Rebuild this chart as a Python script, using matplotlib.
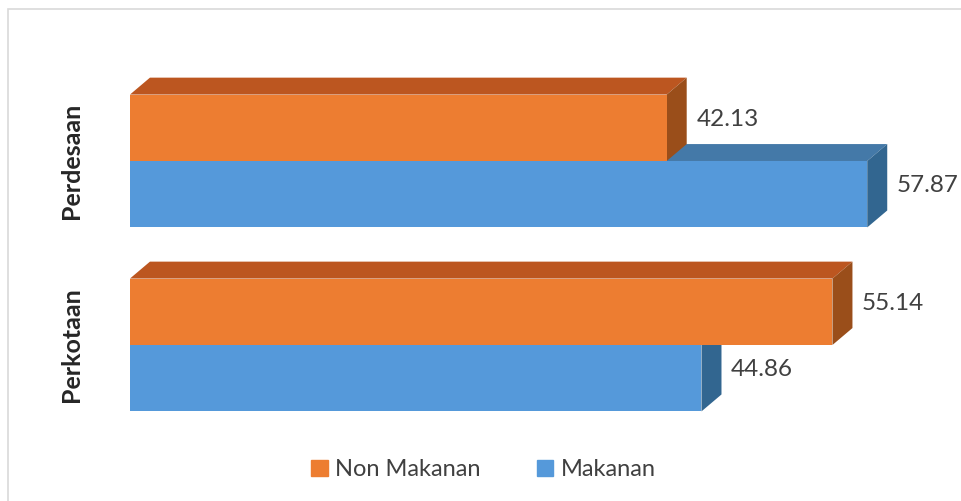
import matplotlib.pyplot as plt
from matplotlib.patches import Patch, Rectangle

# data
categories = ["Perkotaan", "Perdesaan"]
non_makanan = [55.14, 42.13]
makanan = [44.86, 57.87]
series_names = ["Non Makanan", "Makanan"]

# colours: front, top, side
orange = ["#ED7D31", "#BC5620", "#9A4E1A"]
blue = ["#5599DA", "#4479A8", "#326690"]

plt.rcParams['font.family'] = ['Lato', 'DejaVu Sans']

fig = plt.figure(figsize=(9.61, 5.01), dpi=100)
ax = fig.add_axes([0, 0, 1, 1])
ax.set_xlim(-10.20, 65.23)
ax.set_ylim(-0.848, 1.875)
ax.axis('off')

h = 0.361     # bar height (y units)
dx = 1.57     # depth in x
dy = 0.092    # depth in y


def bar3d(y0, v, cols):
    y1 = y0 + h
    # top face
    ax.fill([0, v, v + dx, dx], [y1, y1, y1 + dy, y1 + dy], color=cols[1], lw=0)
    # side face
    ax.fill([v, v + dx, v + dx, v], [y0, y0 + dy, y1 + dy, y1], color=cols[2], lw=0)
    # front face
    ax.fill([0, v, v, 0], [y0, y0, y1, y1], color=cols[0], lw=0)


for i, cat in enumerate(categories):
    base = i
    bar3d(base - h, makanan[i], blue)
    bar3d(base, non_makanan[i], orange)
    ax.text(makanan[i] + dx + 0.75, base - h / 2 + dy * 0.5, f"{makanan[i]:.2f}",
            fontsize=17.5, color="#404040", va='center', ha='left')
    ax.text(non_makanan[i] + dx + 0.75, base + h / 2 + dy * 0.5, f"{non_makanan[i]:.2f}",
            fontsize=17.5, color="#404040", va='center', ha='left')
    ax.text(-4.55, base, cat, rotation=90, fontsize=18, fontweight='bold',
            color="#262626", va='center', ha='center')

handles = [Patch(color=orange[0]), Patch(color=blue[0])]
fig.legend(handles, series_names, loc='center', bbox_to_anchor=(0.503, 0.062),
           ncol=2, frameon=False, fontsize=17, handlelength=0.7, handleheight=0.7,
           handletextpad=0.3, columnspacing=2.4, labelcolor="#404040")

# chart border
fig.patches.append(Rectangle((8 / 961, -0.1), 1.2, 1.1 - 9 / 501, transform=fig.transFigure,
                             fill=False, edgecolor="#D9D9D9", lw=1.2))

fig.savefig("out.png", dpi=100)
